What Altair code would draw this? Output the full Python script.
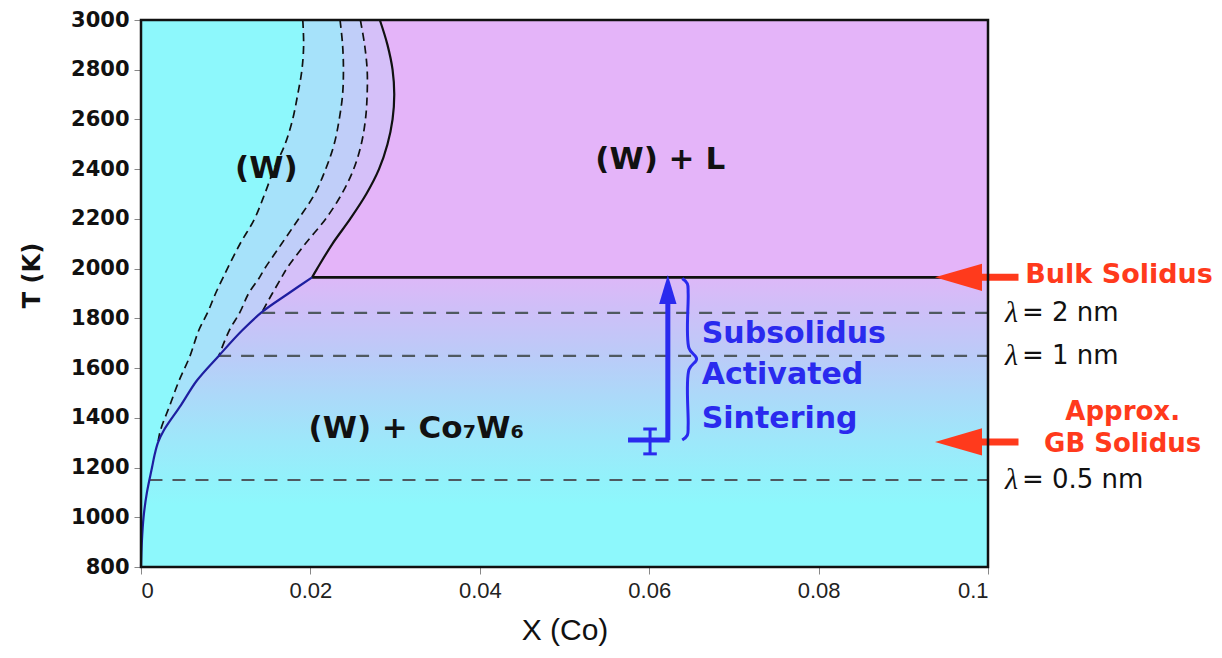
import altair as alt
import pandas as pd

# ---------------- data ----------------
T_grid = [3000, 2900, 2800, 2700, 2600, 2500, 2400, 2300, 2200, 2100, 2000, 1965,
          1900, 1826, 1750, 1650, 1550, 1450, 1350, 1300, 1250, 1200, 1100, 1000, 900, 800]
# bulk solidus (T >= 1965) continued by the (W)/(W)+Co7W6 solvus (T <= 1965)
boundary_x = [0.0282, 0.0291, 0.0297, 0.0299, 0.0297, 0.0291, 0.0281, 0.0266, 0.0247, 0.0226,
              0.0208, 0.0202, 0.0174, 0.0143, 0.0119, 0.0092, 0.0066, 0.0047, 0.0027, 0.0020,
              0.0016, 0.0013, 0.0007, 0.0003, 0.0001, 0.0]
solidus_n = 12  # first 12 grid points belong to the solidus
# GB solidus curves (dashed), each follows T_grid from 3000 K down to where it meets the solvus
dash_05_x = [0.0191, 0.0192, 0.0190, 0.0185, 0.0179, 0.0170, 0.0157, 0.0146, 0.0134, 0.0117,
             0.0102, 0.0097, 0.0088, 0.0079, 0.0068, 0.0058, 0.0045, 0.0034, 0.0023, 0.0020]
dash_1_x = [0.0235, 0.0238, 0.0239, 0.0238, 0.0234, 0.0228, 0.0218, 0.0205, 0.0186, 0.0166,
            0.0146, 0.0140, 0.0127, 0.0117, 0.0104, 0.0092]
dash_2_x = [0.0259, 0.0264, 0.0267, 0.0267, 0.0265, 0.0260, 0.0251, 0.0237, 0.0218, 0.0194,
            0.0172, 0.0166, 0.0155, 0.0143]

bulk_solidus_T = 1965
gb_solidus_T = 1303
lambda_labels = ["2 nm", "1 nm", "0.5 nm"]
lambda_T = [1822, 1649, 1150]
lambda_x0 = [0.0143, 0.0091, 0.0010]

sinter_x = 0.0622
sinter_T0 = 1311
sinter_bar_x = [0.0575, 0.0624]
err_x = 0.0601
err_T = [1255, 1355]
brace_x = [0.0639, 0.0645, 0.0646, 0.0647, 0.0656, 0.0647, 0.0646, 0.0645, 0.0639]
brace_T = [1960, 1940, 1900, 1680, 1637, 1594, 1370, 1330, 1311]

x_ticks = [0, 0.02, 0.04, 0.06, 0.08, 0.1]
y_ticks = [800, 1000, 1200, 1400, 1600, 1800, 2000, 2200, 2400, 2600, 2800, 3000]

# ---------------- styles ----------------
CYAN = "#8DF8FC"
PINK = "#E4B4F9"
RED = "#FF3A1C"
BLUE = "#2A2AEE"
DKBLUE = "#1E1EA0"
FONT = "DejaVu Sans"
INTERP = "catmull-rom"

xs = alt.Scale(domain=[0, 0.1], nice=False, zero=False)
ys = alt.Scale(domain=[800, 3000], nice=False, zero=False)
x_axis = alt.Axis(values=x_ticks, format="~g", title="X (Co)", grid=False, domain=False,
                  tickColor="#888888", tickSize=7, labelFont="Liberation Sans",
                  labelFontSize=22, labelColor="#222222", labelPadding=6,
                  titleFont="Liberation Sans", titleFontSize=30, titleFontWeight="normal",
                  titleColor="#111111", titlePadding=14)
y_axis = alt.Axis(values=y_ticks, format="d", title="T (K)", grid=False, domain=False,
                  tickColor="#888888", tickSize=7, labelFont=FONT, labelFontWeight="bold",
                  labelFontSize=21, labelColor="#111111", labelPadding=5,
                  titleFont=FONT, titleFontSize=24, titleFontWeight="bold",
                  titleColor="#111111", titlePadding=26, titleY=255)


def X(f):
    return alt.X(f, type="quantitative", scale=xs, axis=x_axis, title="X (Co)")


def Y(f):
    return alt.Y(f, type="quantitative", scale=ys, axis=y_axis, title="T (K)")


def grad(stops, vertical):
    return alt.Gradient(
        gradient="linear",
        stops=[alt.GradientStop(color=c, offset=o) for o, c in stops],
        x1=0, y1=0, x2=0 if vertical else 1, y2=1 if vertical else 0)


# ---------------- background regions ----------------
upper = alt.Chart(pd.DataFrame({"x": [0], "x2": [0.1], "T": [3000], "T2": [bulk_solidus_T]})).mark_rect(
    color=PINK).encode(x=X("x"), x2="x2", y=Y("T"), y2="T2")

lower = alt.Chart(pd.DataFrame({"x": [0], "x2": [0.1], "T": [bulk_solidus_T], "T2": [800]})).mark_rect(
    color=grad([(0, "#DDB8F8"), (0.123, "#CDC0F8"), (0.27, "#BBCBF8"), (0.40, "#ADD8F9"),
                (0.57, "#9DE8FA"), (0.70, "#92F2FB"), (0.785, CYAN), (1, CYAN)], True)
).encode(x=X("x"), x2="x2", y=Y("T"), y2="T2")

n05 = len(dash_05_x)
cyan_right = dash_05_x + boundary_x[n05:]
cyan_df = pd.DataFrame({"T": T_grid, "xl": [0.0] * len(T_grid), "xr": cyan_right})


def band(xl, color):
    n = len(xl)
    df = pd.DataFrame({"T": T_grid[:n], "xl": xl, "xr": boundary_x[:n]})
    return alt.Chart(df).mark_area(color=color, orient="horizontal", interpolate=INTERP).encode(
        y=Y("T"), x=X("xl"), x2="xr")


cyan_area = alt.Chart(cyan_df).mark_area(color=CYAN, orient="horizontal", interpolate=INTERP).encode(
    y=Y("T"), x=X("xl"), x2="xr")
band1 = band(dash_05_x, "#A6E2FA")
band2 = band(dash_1_x, "#C0CEF9")
band3 = band(dash_2_x, "#D5C0F9")


# ---------------- curves ----------------
def curve(xv, Tv, **kw):
    df = pd.DataFrame({"x": xv, "T": Tv, "i": list(range(len(xv)))})
    return alt.Chart(df).mark_line(interpolate=INTERP, **kw).encode(
        x=X("x"), y=Y("T"), order="i")


solidus = curve(boundary_x[:solidus_n], T_grid[:solidus_n], color="#111111", strokeWidth=2.2)
solvus = curve(boundary_x[solidus_n - 1:], T_grid[solidus_n - 1:], color=DKBLUE, strokeWidth=2.2)
d05 = curve(dash_05_x, T_grid[:len(dash_05_x)], color="#111111", strokeWidth=1.7, strokeDash=[8, 5])
d1 = curve(dash_1_x, T_grid[:len(dash_1_x)], color="#111111", strokeWidth=1.7, strokeDash=[8, 5])
d2 = curve(dash_2_x, T_grid[:len(dash_2_x)], color="#111111", strokeWidth=1.7, strokeDash=[8, 5])

bulk_line = alt.Chart(pd.DataFrame({"x": [boundary_x[solidus_n - 1]], "x2": [0.1], "T": [bulk_solidus_T]})).mark_rule(
    color="#111111", strokeWidth=2.6).encode(x=X("x"), x2="x2", y=Y("T"))

lam_df = pd.DataFrame({"x": lambda_x0, "x2": [0.1] * 3, "T": lambda_T, "lab": ["= " + s for s in lambda_labels]})
lam_lines = alt.Chart(lam_df).mark_rule(color="#4F5960", strokeWidth=2.2, strokeDash=[13, 10]).encode(
    x=X("x"), x2="x2", y=Y("T"))

# ---------------- sintering arrow ----------------
arrow_shaft = alt.Chart(pd.DataFrame({"x": [sinter_x], "T": [sinter_T0], "T2": [1880]})).mark_rule(
    color=BLUE, strokeWidth=5).encode(x=X("x"), y=Y("T"), y2="T2")
arrow_head = alt.Chart(pd.DataFrame({"x": [sinter_x], "T": [1916]})).mark_point(
    shape="M0,-1L0.6,1L-0.6,1Z", size=841, filled=True, color=BLUE, opacity=1, strokeWidth=0).encode(
    x=X("x"), y=Y("T"))
bar = alt.Chart(pd.DataFrame({"x": [sinter_bar_x[0]], "x2": [sinter_bar_x[1]], "T": [sinter_T0]})).mark_rule(
    color=BLUE, strokeWidth=5).encode(x=X("x"), x2="x2", y=Y("T"))
err = alt.Chart(pd.DataFrame({"x": [err_x], "T": [err_T[0]], "T2": [err_T[1]]})).mark_rule(
    color=BLUE, strokeWidth=3).encode(x=X("x"), y=Y("T"), y2="T2")
caps = alt.Chart(pd.DataFrame({"x": [err_x - 0.0008] * 2, "x2": [err_x + 0.0008] * 2, "T": err_T})).mark_rule(
    color=BLUE, strokeWidth=3).encode(x=X("x"), x2="x2", y=Y("T"))
brace = curve(brace_x, brace_T, color=BLUE, strokeWidth=3)

# ---------------- red arrows ----------------
red_T = [bulk_solidus_T, gb_solidus_T]
red_shaft = alt.Chart(pd.DataFrame({"x": [0.0985] * 2, "x2": [0.1036] * 2, "T": red_T})).mark_rule(
    color=RED, strokeWidth=7).encode(x=X("x"), x2="x2", y=Y("T"))
red_head = alt.Chart(pd.DataFrame({"x": [0.09652] * 2, "T": red_T})).mark_point(
    shape="M-1,0L1,-0.58L1,0.58Z", size=2209, filled=True, color=RED, opacity=1, strokeWidth=0).encode(
    x=X("x"), y=Y("T"))

# ---------------- frame ----------------
frame = alt.Chart(pd.DataFrame({"x": [0], "x2": [0.1], "T": [3000], "T2": [800]})).mark_rect(
    filled=False, stroke="#111111", strokeWidth=2.5).encode(x=X("x"), x2="x2", y=Y("T"), y2="T2")

# ---------------- texts ----------------
phase_df = pd.DataFrame({"x": [0.0148, 0.0613, 0.0325], "T": [2400, 2437, 1355],
                         "t": ["(W)", "(W) + L", "(W) + Co\u2087W\u2086"]})
phase_txt = alt.Chart(phase_df).mark_text(font=FONT, fontSize=31, fontWeight="bold", color="#111111").encode(
    x=X("x"), y=Y("T"), text="t")

blue_df = pd.DataFrame({"x": [0.0662] * 3, "T": [1737, 1572, 1395], "t": ["Subsolidus", "Activated", "Sintering"]})
blue_txt = alt.Chart(blue_df).mark_text(font=FONT, fontSize=30, fontWeight="bold", color=BLUE, align="left").encode(
    x=X("x"), y=Y("T"), text="t")

red_df = pd.DataFrame({"x": [0.1044, 0.1159, 0.1159], "T": [1976, 1422, 1293],
                       "t": ["Bulk Solidus", "Approx.", "GB Solidus"]})
red_txt1 = alt.Chart(red_df.iloc[:1]).mark_text(font=FONT, fontSize=27, fontWeight="bold", color=RED, align="left").encode(
    x=X("x"), y=Y("T"), text="t")
red_txt2 = alt.Chart(red_df.iloc[1:]).mark_text(font=FONT, fontSize=26, fontWeight="bold", color=RED, align="center").encode(
    x=X("x"), y=Y("T"), text="t")

lam_df2 = lam_df.assign(xl=0.1020, xt=0.1040)
lam_sym = alt.Chart(lam_df2).mark_text(font="Liberation Serif", fontStyle="italic", fontSize=30, color="#111111",
                                       align="left").encode(x=X("xl"), y=Y("T"), text=alt.value("\u03bb"))
lam_txt = alt.Chart(lam_df2).mark_text(font=FONT, fontSize=26, color="#111111", align="left").encode(
    x=X("xt"), y=Y("T"), text="lab")

chart = alt.layer(
    upper, lower, cyan_area, band1, band2, band3,
    lam_lines, bulk_line, d05, d1, d2, solidus, solvus,
    arrow_shaft, arrow_head, bar, err, caps, brace,
    red_shaft, red_head, frame,
    phase_txt, blue_txt, red_txt1, red_txt2, lam_sym, lam_txt,
).properties(
    width=847, height=547,
    autosize=alt.AutoSizeParams(type="none"),
    padding={"left": 133, "top": 12, "right": 226, "bottom": 83},
).configure_view(stroke=None)

chart.save("out.html", embed_options={"renderer": "svg", "actions": False})
